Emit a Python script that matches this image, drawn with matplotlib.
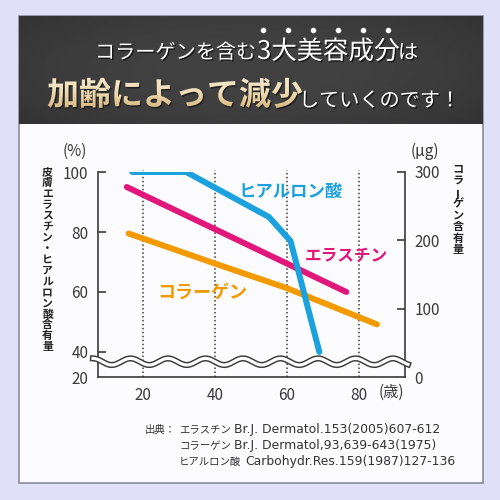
import numpy as np
import matplotlib.pyplot as plt
import matplotlib.patheffects as pe
from matplotlib.patches import Rectangle, PathPatch
from matplotlib.lines import Line2D
from matplotlib.textpath import TextPath
from matplotlib.font_manager import FontProperties
from matplotlib.transforms import Affine2D
from matplotlib.colors import LinearSegmentedColormap

plt.rcParams['font.family'] = ['Noto Sans CJK JP', 'DejaVu Sans']

# data
ages_hyal = [17, 32, 55, 61, 69]
hyaluronic = [100, 100, 85, 77, 40]          # % (left axis)
ages_elastin = [15.5, 76.5]
elastin = [95, 60]                           # % (left axis)
ages_collagen = [16, 40, 60, 85]
collagen = [210, 166, 130, 77]               # µg (right axis)

x_ticks = [20, 40, 60, 80]
left_ticks = [20, 40, 60, 80, 100]
right_ticks = [0, 100, 200, 300]

sources = [
    ('エラスチン', 'Br.J. Dermatol.153(2005)607-612'),
    ('コラーゲン', 'Br.J. Dermatol,93,639-643(1975)'),
    ('ヒアルロン酸', 'Carbohydr.Res.159(1987)127-136'),
]

BLUE = '#1ba1dd'
PINK = '#e2177c'
ORANGE = '#f39a00'
INK = '#3a3a3a'
W, H = 500, 500


def fxy(x, y):
    # pixel position -> figure fraction
    return x / W, 1 - y / H


def fwd(v):
    v = np.asarray(v, float)
    return np.where(v >= 40, v, 40 - (40 - v) * 25 / 60)


def inv(u):
    u = np.asarray(u, float)
    return np.where(u >= 40, u, 40 - (40 - u) * 60 / 25)


fig = plt.figure(figsize=(5, 5), dpi=100)
fig.patch.set_facecolor('#e0e0f9')

# card and header (header axes works in pixels, y down)
fig.add_artist(Rectangle(fxy(19, 483), 464 / W, 467 / H, transform=fig.transFigure,
                         facecolor='#fcfcfe', edgecolor='#8a8a9c', lw=1.2, zorder=-2))
hdr = fig.add_axes([19 / W, 1 - 124 / H, 464 / W, 108 / H])
hdr.axis('off')
hdr.set_xlim(19, 483)
hdr.set_ylim(124, 16)
gx, gy = np.meshgrid(np.linspace(-1, 1, 200), np.linspace(-1, 1, 60))
shade = 0.26 - 0.06 * (gx ** 2 * 0.6 + gy ** 2 * 0.4)
hdr.imshow(shade, cmap='gray', vmin=0, vmax=1, aspect='auto',
           extent=(19, 483, 124, 16), zorder=0)

shadow = [pe.withSimplePatchShadow(offset=(1, -1), shadow_rgbFace='black', alpha=0.6)]
fig.text(*fxy(95, 53), 'コラーゲンを含む', color='white', fontsize=14.5,
         ha='left', va='center', path_effects=shadow)
fig.text(*fxy(257, 52), '3大美容成分', color='white', fontsize=18.5,
         ha='left', va='center', path_effects=shadow)
fig.text(*fxy(398, 53), 'は', color='white', fontsize=14.5,
         ha='left', va='center', path_effects=shadow)
for i in range(6):
    fig.add_artist(Line2D([(263 + i * 25) / W], [1 - 30 / H], marker='o', ms=3,
                          color='white', transform=fig.transFigure))

# gold gradient title text
tp = TextPath((0, 0), '加齢によって減少', size=32,
              prop=FontProperties(family='Noto Sans CJK JP', weight='bold'))
place = Affine2D().scale(1, -1).translate(47, 105)
hdr.add_patch(PathPatch(tp, transform=place + Affine2D().translate(1.2, 1.5) + hdr.transData,
                        facecolor='#111111', edgecolor='none', alpha=0.7, zorder=1))
gold_patch = PathPatch(tp, transform=place + hdr.transData, facecolor='none',
                       edgecolor='none', zorder=1)
hdr.add_patch(gold_patch)
gold = LinearSegmentedColormap.from_list('gold', ['#f7ecd3', '#efdcb4', '#d8b57c'])
grad = hdr.imshow(np.linspace(0, 1, 64).reshape(-1, 1), cmap=gold, aspect='auto',
                  extent=(40, 305, 110, 74), zorder=2)
grad.set_clip_path(gold_patch)

fig.text(*fxy(299, 101), 'していくのです！', color='white', fontsize=14.5,
         ha='left', va='center', path_effects=shadow)

# main chart
ax = fig.add_axes([98 / W, 1 - 377 / H, 307 / W, 205 / H])
ax.patch.set_alpha(0)
ax.set_xlim(7.5, 92.8)
ax.set_yscale('function', functions=(fwd, inv))
ax.set_ylim(20, 100)
ax2 = ax.twinx()
ax2.set_ylim(0, 300)

for a in (ax, ax2):
    for s in a.spines.values():
        s.set_color(INK)
        s.set_linewidth(1.2)
    a.spines['top'].set_visible(False)
ax.spines['right'].set_visible(False)
ax2.spines['left'].set_visible(False)
ax2.spines['bottom'].set_visible(False)

ax.set_xticks(x_ticks)
ax.tick_params(axis='x', length=0, pad=7, labelsize=11, labelcolor=INK)
ax.set_yticks(left_ticks)
ax.set_yticklabels([str(t) for t in left_ticks])
ax.yaxis.set_minor_locator(plt.NullLocator())
ax.tick_params(axis='y', direction='in', length=6, width=1.2, color=INK,
               pad=7, labelsize=11, labelcolor=INK)
ax.yaxis.get_major_ticks()[0].tick1line.set_visible(False)
ax2.set_yticks(right_ticks)
ax2.tick_params(axis='y', direction='in', length=6, width=1.2, color=INK,
                pad=7, labelsize=11, labelcolor=INK)
ax2.yaxis.get_major_ticks()[0].tick2line.set_visible(False)

ax.vlines(x_ticks, 20, 100.6, colors=INK, linestyles=(0, (1, 1.6)), lw=1.1, clip_on=False)

ax.plot(ages_collagen, collagen, color=ORANGE, lw=4.3, solid_capstyle='round',
        transform=ax2.transData, zorder=3)
ax.plot(ages_elastin, elastin, color=PINK, lw=4.3, solid_capstyle='round', zorder=4)
ax.plot(ages_hyal, hyaluronic, color=BLUE, lw=4.3, solid_capstyle='round',
        solid_joinstyle='miter', zorder=5)

ax.text(46.5, 93.5, 'ヒアルロン酸', color=BLUE, fontsize=12.5, fontweight='bold',
        ha='left', va='center')
ax.text(65, 72, 'エラスチン', color=PINK, fontsize=12, fontweight='bold',
        ha='left', va='center')
ax.text(24, 59.8, 'コラーゲン', color=ORANGE, fontsize=13, fontweight='bold',
        ha='left', va='center')

# axis break wave
wx = np.linspace(93, 408, 500)
wy = 361.7 - 3.3 * np.cos(2 * np.pi * (wx - 93) / 37.5)
for lw, c in ((4.4, INK), (2.3, 'white')):
    fig.add_artist(Line2D(wx / W, 1 - wy / H, lw=lw, color=c,
                          transform=fig.transFigure, zorder=6))

# units and axis titles
fig.text(*fxy(63, 151), '(%)', color=INK, fontsize=11, ha='left', va='center')
fig.text(*fxy(411, 151), '(μg)', color=INK, fontsize=11, ha='left', va='center')
fig.text(*fxy(379, 392), '(歳)', color=INK, fontsize=11, ha='left', va='center')


def vertical(text, x, y0, step, size):
    for i, ch in enumerate(text):
        fig.text(*fxy(x, y0 + i * step), ch, color='#222222', fontsize=size,
                 fontweight='bold', ha='center', va='center',
                 rotation=90 if ch == 'ー' else 0)


vertical('皮膚エラスチン・ヒアルロン酸含有量', 47.5, 172.5, 10.9, 7.8)
vertical('コラーゲン含有量', 458, 169, 11.5, 8)

# source note
note_kw = dict(color='#333333', ha='left', va='center')
fig.text(*fxy(145, 430), '出典：', fontsize=7.5, **note_kw)
for i, (name, ref) in enumerate(sources):
    y = 430 + i * 16
    fig.text(*fxy(179, y), name, fontsize=7.5, **note_kw)
    fig.text(*fxy(179 + len(name) * 10.3 + 4, y), ref, fontsize=8.9,
             family='DejaVu Sans', **note_kw)

fig.savefig('out.png', dpi=100)
